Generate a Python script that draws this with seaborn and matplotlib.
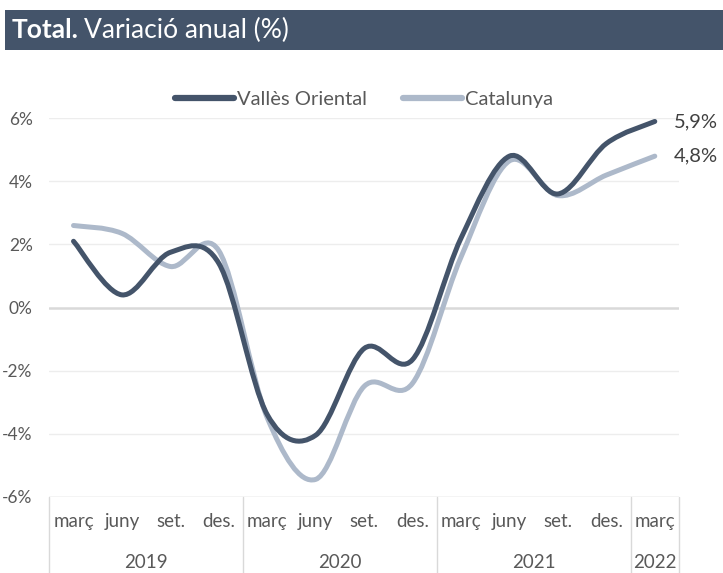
import numpy as np
import pandas as pd
import matplotlib
matplotlib.use("Agg")
import matplotlib.pyplot as plt
from matplotlib.path import Path
from matplotlib.patches import PathPatch, Rectangle
from matplotlib.lines import Line2D
import seaborn as sns

# ---------------- data ----------------
months = ["març", "juny", "set.", "des.",
          "març", "juny", "set.", "des.",
          "març", "juny", "set.", "des.",
          "març"]
years = ["2019", "2020", "2021", "2022"]
year_spans = [4, 4, 4, 1]
valles = [2.1, 0.4, 1.75, 1.4, -3.4, -4.05, -1.3, -1.65, 2.2, 4.8, 3.6, 5.2, 5.9]
catalunya = [2.6, 2.35, 1.3, 1.8, -3.5, -5.45, -2.5, -2.4, 1.6, 4.65, 3.55, 4.2, 4.8]
series_names = ["Vallès Oriental", "Catalunya"]
end_labels = ["5,9%", "4,8%"]
yticks = [-6, -4, -2, 0, 2, 4, 6]
ytick_labels = ["-6%", "-4%", "-2%", "0%", "2%", "4%", "6%"]
title_bold = "Total."
title_rest = "Variació anual (%)"

# ---------------- style ----------------
sns.set_theme(style="white")
FONT = ["Lato", "DejaVu Sans"]
plt.rcParams["font.family"] = FONT
TXT = "#595959"
DARK = "#44546A"
LIGHT = "#ADB9CA"
GRID = "#EDEDED"
SEP = "#D9D9D9"
colors = [DARK, LIGHT]

W, H = 723, 573
fig = plt.figure(figsize=(W / 100, H / 100), dpi=100)
fig.patch.set_facecolor("white")

left_px, right_px, top_px, bot_px = 49.3, 679.0, 118.3, 496.7
ax = fig.add_axes([left_px / W, 1 - bot_px / H, (right_px - left_px) / W, (bot_px - top_px) / H])
ax.set_facecolor("white")

n = len(months)
x = np.arange(n)
df = pd.DataFrame({
    "pos": np.concatenate([x, x]),
    "value": np.concatenate([valles, catalunya]),
    "serie": [series_names[0]] * n + [series_names[1]] * n,
})

sns.lineplot(data=df, x="pos", y="value", hue="serie", palette=colors,
             hue_order=series_names, ax=ax, legend=False, linewidth=3.5)
ax.set_xlabel("")
ax.set_ylabel("")


def smooth_path(px, py):
    pts = np.column_stack([px, py]).astype(float)
    m = len(pts)
    verts = [pts[0]]
    codes = [Path.MOVETO]
    for i in range(m - 1):
        p0 = pts[max(i - 1, 0)]
        p1 = pts[i]
        p2 = pts[i + 1]
        p3 = pts[min(i + 2, m - 1)]
        c1 = p1 + (p2 - p0) / 6.0
        c2 = p2 - (p3 - p1) / 6.0
        verts += [c1, c2, p2]
        codes += [Path.CURVE4] * 3
    return Path(verts, codes)


# render seaborn's lines with Excel-like smoothing
for line, col, z in zip(ax.get_lines(), colors, [3, 2]):
    xy = line.get_xydata()
    patch = PathPatch(smooth_path(xy[:, 0], xy[:, 1]), facecolor="none",
                      edgecolor=col, lw=3.6, capstyle="round", joinstyle="round",
                      zorder=z)
    ax.add_patch(patch)
    line.set_visible(False)

ax.set_xlim(-0.5, n - 0.5)
ax.set_ylim(-6, 6)
for s in ax.spines.values():
    s.set_visible(False)

# gridlines
for yv in yticks:
    ax.axhline(yv, color=(SEP if yv == 0 else GRID), lw=(1.8 if yv == 0 else 1.0), zorder=0)
ax.axhline(-6, color=SEP, lw=1.0, zorder=0)

ax.set_yticks(yticks)
ax.set_yticklabels(ytick_labels)
ax.tick_params(axis="y", length=0, pad=12, labelsize=12.5, labelcolor=TXT)

ax.set_xticks(x)
ax.set_xticklabels(months)
ax.tick_params(axis="x", length=0, pad=12, labelsize=13.5, labelcolor=TXT)

# year separators and year labels
trans = ax.get_xaxis_transform()
ax_h = bot_px - top_px
sep_bottom = -(H - bot_px) / ax_h
bounds = [-0.5]
for sp in year_spans:
    bounds.append(bounds[-1] + sp)
for b in bounds:
    ax.plot([b, b], [0, sep_bottom], transform=trans, color=SEP, lw=1.0, clip_on=False)
year_y = -(562 - bot_px) / ax_h
for yr, a, b in zip(years, bounds[:-1], bounds[1:]):
    ax.text((a + b) / 2, year_y, yr, transform=trans, ha="center", va="center",
            fontsize=13.5, color=TXT)

# end labels
for vals, lab in zip([valles, catalunya], end_labels):
    ax.annotate(lab, xy=(n - 1, vals[-1]), xytext=(14, 0), textcoords="offset points",
                ha="left", va="center", fontsize=14.5, color="#404040", annotation_clip=False)

# legend
handles = [Line2D([0], [0], color=c, lw=4.5, solid_capstyle="round") for c in colors]
fig.legend(handles, series_names, loc="center", bbox_to_anchor=(364 / W, 1 - 99 / H),
           ncol=2, frameon=False, fontsize=14.5, handlelength=2.9, handletextpad=0.15,
           columnspacing=1.8, labelcolor=TXT)

# title bar
fig.patches.append(Rectangle((5 / W, 1 - 50 / H), 1 - 5 / W, 40 / H,
                             transform=fig.transFigure, facecolor=DARK,
                             edgecolor="none", zorder=0))
t1 = fig.text(12 / W, 1 - 30 / H, title_bold, color="white", fontsize=19,
              fontweight="bold", ha="left", va="center")
fig.canvas.draw()
bb = t1.get_window_extent(renderer=fig.canvas.get_renderer())
fig.text((bb.x1 + 5) / W, 1 - 30 / H, title_rest, color="white", fontsize=19,
         ha="left", va="center")

fig.savefig("out.png", dpi=100, facecolor="white")
